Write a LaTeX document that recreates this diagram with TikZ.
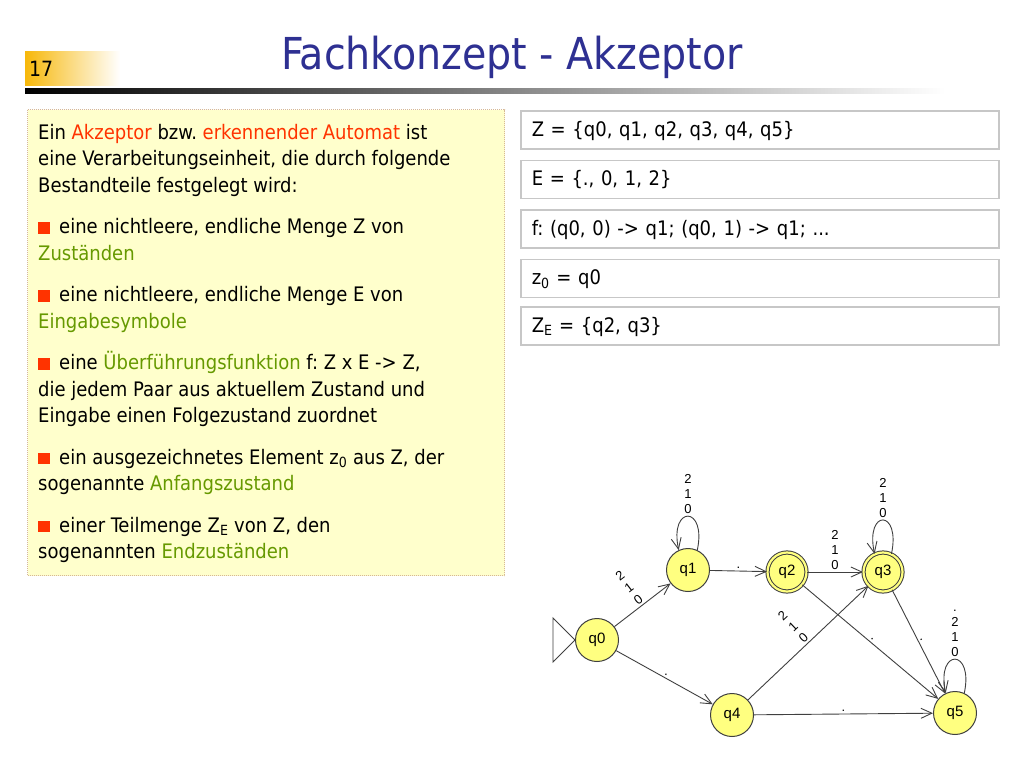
\documentclass[tikz,border=0pt]{standalone}
\usepackage{fontspec}
\setmainfont{DejaVu Sans Condensed}
\newfontfamily\statefont{Liberation Sans}
\usetikzlibrary{arrows.meta, positioning}

\definecolor{titleblue}{RGB}{46,48,146}
\definecolor{hotred}{RGB}{255,51,0}
\definecolor{leafgreen}{RGB}{102,153,0}
\definecolor{notefill}{RGB}{255,255,204}
\definecolor{noteedge}{RGB}{214,184,150}
\definecolor{statefill}{RGB}{255,255,128}
\definecolor{numorange}{RGB}{247,184,10}

\newcommand{\hot}[1]{\textcolor{hotred}{#1}}
\newcommand{\term}[1]{\textcolor{leafgreen}{#1}}
\newcommand{\sqbullet}{\textcolor{hotred}{\rule{12pt}{11.5pt}}\hspace{9pt}}
\frenchspacing

\begin{document}
\begin{tikzpicture}[> = {Straight Barb[length = 11pt, width = 10pt]}, x = 1pt, y = -1pt,
	state/.style = {circle, draw = black!75, fill = statefill, line width = 1pt, minimum size = 43pt, inner sep = 0pt, font = \statefont\fontsize{15}{17}\selectfont},
	accepting/.style = {double = statefill, double distance = 2.2pt, minimum size = 39pt},
	trans/.style = {->, draw = black!75, line width = 0.9pt},
	symb/.style = {font = \statefont\fontsize{13}{15}\selectfont, align = center, inner sep = 2pt},
	infobox/.style = {draw = black!22, line width = 1.5pt, fill = white, text width = 456pt, inner xsep = 11pt, inner ysep = 0pt, minimum height = 38pt, text height = 16pt, text depth = 3pt, align = left, font = \fontsize{20}{24}\selectfont}]

% Canvas

\fill[white] (0, 0) rectangle (1024, 768);
\useasboundingbox (0, 0) rectangle (1024, 768);

% Slide number and title

\shade[left color = numorange, right color = white] (25, 52) rectangle (120, 85);
\node[anchor = base west, inner sep = 0pt, font = \fontsize{21}{24}\selectfont] (num) at (29, 76) {17};
\node[anchor = base, inner sep = 0pt, text = titleblue, font = \fontsize{44}{48}\selectfont] (title) at (512, 70) {Fachkonzept - Akzeptor};
\shade[left color = black, right color = white] (25, 88) rectangle (945, 93);

% Definition on the left

\node[draw = noteedge, densely dotted, line width = 1pt, fill = notefill, anchor = north west, minimum width = 477pt, minimum height = 466pt] (note) at (27, 109) {};
\node[anchor = north west, inner sep = 0pt, align = left, font = \fontsize{20}{26.5}\selectfont] (notetext) at (38, 123.8) {%
	Ein \hot{Akzeptor} bzw. \hot{erkennender Automat} ist\\
	eine Verarbeitungseinheit, die durch folgende\\
	Bestandteile festgelegt wird:\\[15pt]
	\sqbullet eine nichtleere, endliche Menge Z von\\
	\term{Zuständen}\\[15pt]
	\sqbullet eine nichtleere, endliche Menge E von\\
	\term{Eingabesymbole}\\[15pt]
	\sqbullet eine \term{Überführungsfunktion} f: Z x E -> Z,\\
	die jedem Paar aus aktuellem Zustand und\\
	Eingabe einen Folgezustand zuordnet\\[15pt]
	\sqbullet ein ausgezeichnetes Element z\textsubscript{0} aus Z, der\\
	sogenannte \term{Anfangszustand}\\[15pt]
	\sqbullet einer Teilmenge Z\textsubscript{E} von Z, den\\
	sogenannten \term{Endzuständen}};

% Example on the right

\node[infobox, anchor = north west] (zset) at (520, 110) {Z = \{q0, q1, q2, q3, q4, q5\}};
\node[infobox, below = 10pt of zset] (eset) {E = \{., 0, 1, 2\}};
\node[infobox, below = 10pt of eset] (fmap) {f: (q0, 0) -> q1; (q0, 1) -> q1; ...};
\node[infobox, below = 10pt of fmap] (zstart) {z\textsubscript{0} = q0};
\node[infobox, below = 8pt of zstart] (zend) {Z\textsubscript{E} = \{q2, q3\}};

% States

\node[state] (q0) at (597, 640) {q0};
\node[state] (q1) at (688, 570) {q1};
\node[state, accepting] (q2) at (787, 572) {q2};
\node[state, accepting] (q3) at (883, 572) {q3};
\node[state] (q4) at (732, 715) {q4};
\node[state] (q5) at (955, 713) {q5};

% Start marker

\draw[draw = black!75, line width = 0.9pt] (q0.west) -- ++(-22, -22) -- ++(0, 44) -- cycle;

% Transitions

\draw[trans] (q0) -- node[symb, sloped, above] {2\\1\\0} (q1);
\draw[trans] (q0) -- node[symb, sloped, above] {.} (q4);
\draw[trans] (q1) -- node[symb, above] {.} (q2);
\draw[trans] (q2) -- node[symb, above] {2\\1\\0} (q3);
\draw[trans] (q2) -- node[symb, sloped, above] {.} (q5);
\draw[trans] (q3) -- node[symb, sloped, above] {.} (q5);
\draw[trans] (q4) -- node[symb, sloped, above] {2\\1\\0} (q3);
\draw[trans] (q4) -- node[symb, above] {.} (q5);

% Loops

\draw[trans] (q1.65) .. controls +(-78 : 46) and +(-102 : 46) .. node[symb, above] {2\\1\\0} (q1.115);
\draw[trans] (q3.65) .. controls +(-78 : 46) and +(-102 : 46) .. node[symb, above] {2\\1\\0} (q3.115);
\draw[trans] (q5.65) .. controls +(-78 : 46) and +(-102 : 46) .. node[symb, above] {.\\2\\1\\0} (q5.115);

\end{tikzpicture}
\end{document}
